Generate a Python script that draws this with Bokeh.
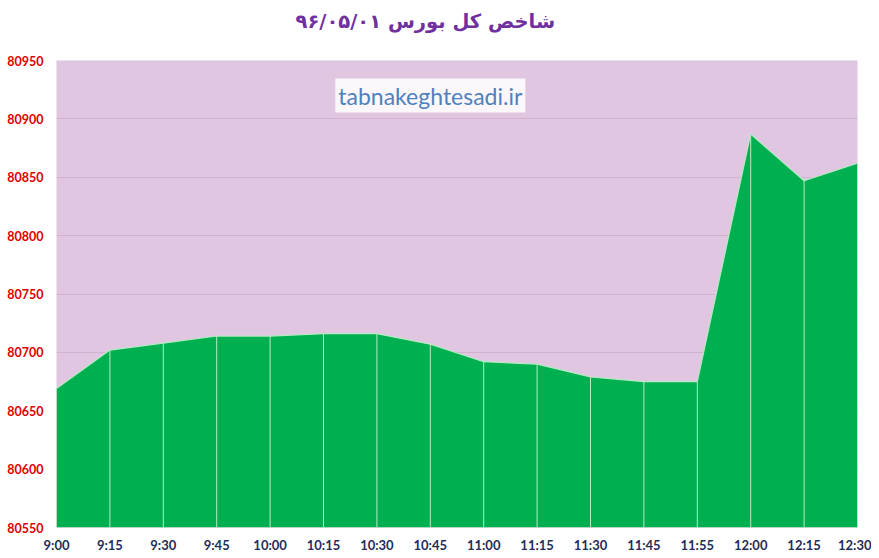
from bokeh.plotting import figure
from bokeh.models import Range1d, FixedTicker, Label, ColumnDataSource, Title
from bokeh.embed import file_html
from bokeh.resources import INLINE

times = ["9:00", "9:15", "9:30", "9:45", "10:00", "10:15", "10:30", "10:45",
         "11:00", "11:15", "11:30", "11:45", "11:55", "12:00", "12:15", "12:30"]
index_values = [80669, 80702, 80708, 80714, 80714, 80716, 80716, 80707,
                80692, 80690, 80679, 80675, 80675, 80887, 80847, 80862]
y_ticks = [80550, 80600, 80650, 80700, 80750, 80800, 80850, 80900, 80950]
title_text = "شاخص کل بورس ۹۶/۰۵/۰۱"
watermark = "tabnakeghtesadi.ir"

xs = list(range(len(times)))
base = y_ticks[0]
src = ColumnDataSource(dict(x=xs, y=index_values, base=[base] * len(xs)))

p = figure(width=871, height=555, output_backend="svg", toolbar_location=None,
           x_range=Range1d(0, len(times) - 1), y_range=Range1d(y_ticks[0], y_ticks[-1]),
           min_border_left=56, min_border_right=14, min_border_top=60, min_border_bottom=25)
p.title = None

# spacer nearest the frame, real title above it
spacer = Title(text=" ", text_font="DejaVu Sans", text_font_size="19.5px", standoff=3)
p.add_layout(spacer, "above")
ttl = Title(text=title_text, align="left", offset=239, standoff=0,
            text_font="DejaVu Sans", text_font_size="19.5px", text_font_style="bold",
            text_color="#7030A0")
p.add_layout(ttl, "above")

p.background_fill_color = "#E0C6E0"
p.border_fill_color = "white"
p.outline_line_color = None

p.varea(x="x", y1="base", y2="y", source=src, fill_color="#00B050")
p.segment(x0="x", y0="base", x1="x", y1="y", source=src, line_color="#B5EBC4", line_width=1)
p.line(x="x", y="y", source=src, line_color="#B5EBC4", line_width=1.2)

p.xgrid.grid_line_color = None
p.ygrid.grid_line_color = "#CFB3CF"
p.ygrid.ticker = FixedTicker(ticks=y_ticks)

p.xaxis.ticker = FixedTicker(ticks=xs)
p.xaxis.major_label_overrides = {i: t for i, t in enumerate(times)}
p.xaxis.axis_line_color = None
p.xaxis.major_tick_line_color = None
p.xaxis.minor_tick_line_color = None
p.xaxis.major_tick_out = 0
p.xaxis.major_tick_in = 0
p.xaxis.minor_tick_out = 0
p.xaxis.major_label_standoff = 9
p.xaxis.major_label_text_font = "Lato"
p.xaxis.major_label_text_font_style = "bold"
p.xaxis.major_label_text_font_size = "13px"
p.xaxis.major_label_text_color = "#1F2D5A"

p.yaxis.ticker = FixedTicker(ticks=y_ticks)
p.yaxis.axis_line_color = None
p.yaxis.major_tick_line_color = None
p.yaxis.minor_tick_line_color = None
p.yaxis.major_tick_out = 0
p.yaxis.major_tick_in = 0
p.yaxis.minor_tick_out = 0
p.yaxis.major_label_standoff = 13
p.yaxis.major_label_text_font = "Lato"
p.yaxis.major_label_text_font_style = "bold"
p.yaxis.major_label_text_font_size = "12.5px"
p.yaxis.major_label_text_color = "#E00000"

wm = Label(x=7.0, y=80920, text=watermark, text_align="center", text_baseline="middle",
           text_font="Lato", text_font_size="23px", text_color="#4F81BD",
           background_fill_color="white", background_fill_alpha=0.85,
           padding=3)
p.add_layout(wm)

open("out.html", "w").write(file_html(p, INLINE))
